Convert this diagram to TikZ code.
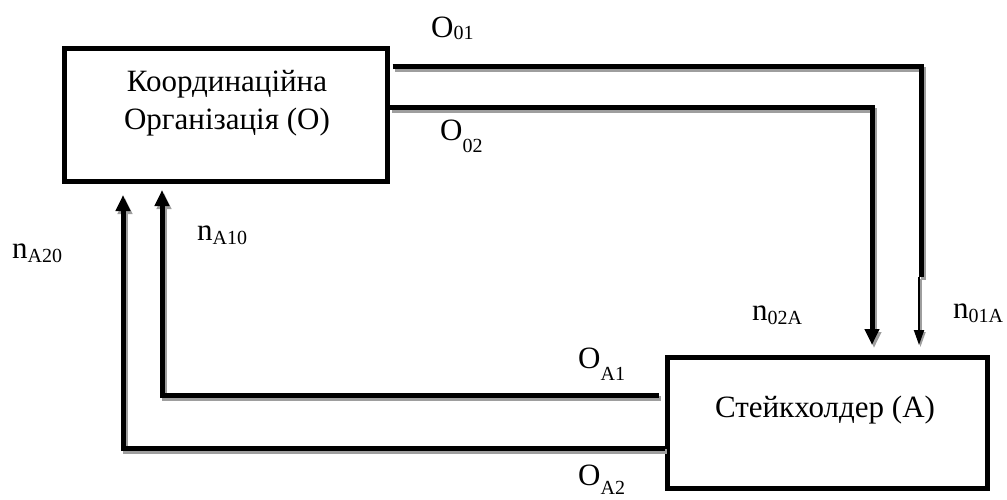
\documentclass[tikz,border=0pt]{standalone}
\usepackage{fontspec}
\setmainfont{Liberation Serif}
\usetikzlibrary{arrows.meta}
\begin{document}
\begin{tikzpicture}[x=1pt,y=-1pt,
  box/.style={draw,line width=5pt,inner sep=0pt},
  boxtext/.style={font=\fontsize{31}{31}\selectfont,inner sep=0pt,anchor=base},
  flow/.style={line width=5pt,
               preaction={draw=black!38,line width=5pt,transform canvas={shift={(2pt,-3pt)}}}},
  thinflow/.style={line width=2pt,
               preaction={draw=black!38,line width=2pt,transform canvas={shift={(1.5pt,-2pt)}}}},
  tip/.style={-{Triangle[length=16pt,width=14pt]}},
  smalltip/.style={-{Triangle[length=15pt,width=10pt]}},
  lbl/.style={font=\fontsize{31}{31}\selectfont,inner sep=0pt,anchor=base west}
]
\newcommand\sub[2]{\raisebox{#1}{\fontsize{20}{20}\selectfont #2}}
\useasboundingbox (0,0) rectangle (1007,500);

% the two blocks
\node[box,minimum width=323pt,minimum height=133pt] (O) at (225.5,115.5) {};
\node[boxtext] (Ot1) at (227,92) {Координаційна};
\node[boxtext] (Ot2) at (227,130) {Організація (О)};
\node[box,minimum width=320pt,minimum height=131pt] (A) at (827,422.5) {};
\node[boxtext] (At) at (825,417) {Стейкхолдер (А)};

% bend points of the connectors
\coordinate (c1) at (921,67);
\coordinate (c1b) at (921,277);
\coordinate (c1c) at (919,277);
\coordinate (c1e) at (919,345);
\coordinate (c2) at (872,108);
\coordinate (c2e) at (872,345);
\coordinate (r1s) at (659,395);
\coordinate (r1) at (162,395);
\coordinate (r1e) at (162,190);
\coordinate (r2) at (123,448);
\coordinate (r2e) at (123,195);

% O -> A
\draw[flow] (O.east |- c1) ++(3,0) -- (c1) -- (c1b);
\draw[thinflow,smalltip] (c1c) -- (c1e);
\draw[flow,tip] (O.east |- c2) -- (c2) -- (c2e);

% A -> O
\draw[flow,tip] (r1s) -- (r1) -- (r1e);
\draw[flow,tip] (A.west |- r2) -- (r2) -- (r2e);

% labels
\node[lbl] (l01) at (431,38) {O\sub{-2pt}{01}};
\node[lbl] (l02) at (440,141) {O\sub{-12pt}{02}};
\node[lbl] (lA1) at (578,368) {O\sub{-12pt}{A1}};
\node[lbl] (lA2) at (578,485) {O\sub{-9pt}{A2}};
\node[lbl] (n20) at (12,258) {n\sub{-4pt}{A20}};
\node[lbl] (n10) at (197,240) {n\sub{-4pt}{A10}};
\node[lbl] (n02) at (752,320) {n\sub{-4pt}{02A}};
\node[lbl] (n01) at (953,318) {n\sub{-4pt}{01A}};
\end{tikzpicture}
\end{document}
